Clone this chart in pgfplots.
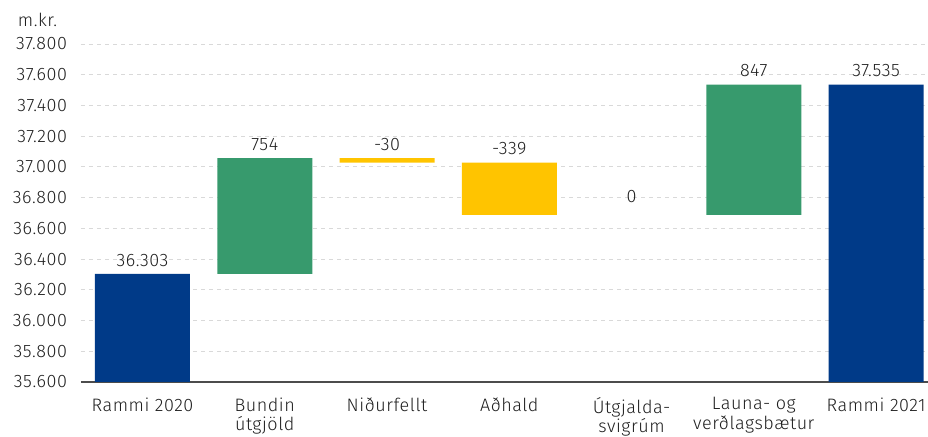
\documentclass[border=0pt]{standalone}
\usepackage{pgfplots}
\pgfplotsset{compat=1.18}
\usepackage{fontspec}
\setmainfont{Fira Sans}[UprightFont=* Light, LetterSpace=3]
\definecolor{navy}{HTML}{003A88}
\definecolor{grn}{HTML}{379A6D}
\definecolor{ylw}{HTML}{FFC400}
\definecolor{gridc}{HTML}{D9D9D9}
\newcommand{\lblfont}{\fontsize{18}{19.5}\selectfont}
\pgfplotsset{common/.style={
  scale only axis, width=847pt, height=338pt,
  xmin=-0.503, xmax=6.425, ymin=35600, ymax=37800,
}}
\begin{document}
\begin{tikzpicture}
\begin{axis}[
  common,
  ybar stacked, bar width=0.777,
  ytick={35600,35800,...,37800},
  scaled y ticks=false,
  xtick={0,...,6},
  xticklabels={Rammi 2020, Bundin\\útgjöld, Niðurfellt, Aðhald, Útgjalda-\\svigrúm, Launa- og\\verðlagsbætur, Rammi 2021},
  axis x line*=bottom, axis y line*=left,
  y axis line style={draw=none},
  x axis line style={draw=black!70, line width=1.2pt, -},
  major tick length=0pt,
  ymajorgrids, grid style={gridc, dash pattern=on 4pt off 4pt, line width=0.8pt},
  yticklabel style={/pgf/number format/fixed, /pgf/number format/1000 sep={.}, /pgf/number format/assume math mode=true, xshift=-10.5pt},
  every tick label/.append style={font=\lblfont, text=black!88},
  xticklabel style={align=center, yshift=-12pt},
]
\addplot[draw=none, fill=none, forget plot] coordinates {(0,0) (1,36303) (2,37027) (3,36688) (4,36688) (5,36688) (6,0)};
\addplot[fill=navy, draw=none] coordinates {(0,36303) (1,0) (2,0) (3,0) (4,0) (5,0) (6,37535)};
\addplot[fill=grn, draw=none] coordinates {(0,0) (1,754) (2,0) (3,0) (4,0) (5,847) (6,0)};
\addplot[fill=ylw, draw=none] coordinates {(0,0) (1,0) (2,30) (3,339) (4,0) (5,0) (6,0)};
\end{axis}
\begin{axis}[common, hide axis]
\addplot[only marks, mark=none, nodes near coords, point meta=explicit symbolic,
  nodes near coords style={font=\lblfont, text=black!88, anchor=south, yshift=4pt}]
  table[meta=label, row sep=\\] {
  x y label \\
  0 36303 36.303 \\
  1 37057 754 \\
  2 37057 -30 \\
  3 37027 -339 \\
  4 36715 0 \\
  5 37535 847 \\
  6 37535 37.535 \\
};
\end{axis}
\node[font=\lblfont, text=black!88] at ([xshift=-43.5pt, yshift=24pt]current axis.north west) {m.kr.};
\pgfresetboundingbox
\path[use as bounding box] (-81pt,-54pt) rectangle (847pt,382pt);
\end{tikzpicture}
\end{document}
